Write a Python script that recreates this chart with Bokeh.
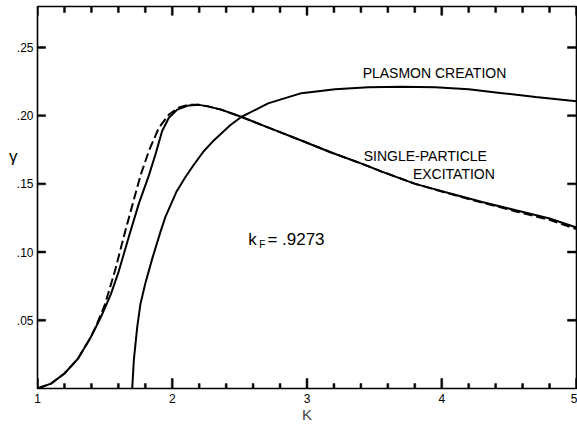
from bokeh.plotting import figure
from bokeh.models import LinearAxis, FixedTicker, Label, Range1d
from bokeh.embed import file_html
from bokeh.resources import INLINE

# ---- data ----
single_k = [1.0, 1.1, 1.2, 1.3, 1.395, 1.469, 1.544, 1.603, 1.678, 1.752, 1.826, 1.876,
            1.925, 1.975, 2.037, 2.123, 2.2, 2.264, 2.363, 2.5, 2.686, 2.934, 3.18,
            3.4, 3.555, 3.803, 4.05, 4.30, 4.55, 4.80, 5.0]
single_g = [0.0, 0.0036, 0.011, 0.0218, 0.0375, 0.052, 0.069, 0.0859, 0.1113, 0.1355, 0.156, 0.1718,
            0.1887, 0.1984, 0.2044, 0.2075, 0.2079, 0.2068, 0.2044, 0.1996, 0.1923, 0.1827, 0.173,
            0.165, 0.159, 0.150, 0.1433, 0.1367, 0.1306, 0.1246, 0.118]

dashed_k = [1.0, 1.1, 1.2, 1.3, 1.395, 1.44, 1.50, 1.574, 1.653, 1.727, 1.764, 1.826,
            1.90, 1.975, 2.049, 2.123, 2.2, 2.264, 2.363, 2.5, 2.686, 2.934, 3.18,
            3.4, 3.555, 3.803, 4.05, 4.30, 4.55, 4.80, 5.0]
dashed_g = [0.0, 0.0036, 0.011, 0.0218, 0.0375, 0.047, 0.0615, 0.0859, 0.116, 0.1427, 0.156, 0.174,
            0.191, 0.2008, 0.206, 0.208, 0.2079, 0.2068, 0.2044, 0.1996, 0.1923, 0.1827, 0.173,
            0.165, 0.159, 0.150, 0.1430, 0.1362, 0.1298, 0.1236, 0.1168]

plasmon_k = [1.703, 1.715, 1.740, 1.764, 1.80, 1.851, 1.913, 1.95, 2.03, 2.098, 2.16, 2.23,
             2.30, 2.36, 2.43, 2.512, 2.711, 2.959, 3.208, 3.456, 3.704, 3.952, 4.20, 4.449,
             4.697, 5.0]
plasmon_g = [0.0, 0.021, 0.045, 0.062, 0.077, 0.095, 0.115, 0.126, 0.144, 0.155, 0.164, 0.1735,
             0.181, 0.1865, 0.193, 0.199, 0.209, 0.2165, 0.2194, 0.2209, 0.2211, 0.2209, 0.2194, 0.2165,
             0.2136, 0.2106]

x_ticks = [1.0, 2.0, 3.0, 4.0, 5.0]
x_minor = [1.2, 1.4, 1.6, 1.8, 2.2, 2.4, 2.6, 2.8, 3.2, 3.4, 3.6, 3.8, 4.2, 4.4, 4.6, 4.8]
y_ticks = [0.05, 0.10, 0.15, 0.20, 0.25]
y_labels = [".05", ".10", ".15", ".20", ".25"]
x_title = "K"
y_title = "\u03b3"
y_title_pos = 0.17

FONT = "Liberation Sans"
X0, X1, Y0, Y1 = 1.0, 5.0, 0.0, 0.28

p = figure(width=577, height=425, output_backend="svg", toolbar_location=None,
           x_range=Range1d(X0, X1), y_range=Range1d(Y0, Y1),
           x_axis_type=None, y_axis_type=None,
           min_border_left=37, min_border_right=1, min_border_top=6, min_border_bottom=33)
p.outline_line_color = "black"
p.outline_line_width = 1.6
p.grid.visible = False
p.background_fill_color = "white"
p.border_fill_color = "white"


def label_axis(ax, size="12px", standoff=4):
    ax.axis_line_color = None
    ax.major_tick_line_color = None
    ax.minor_tick_line_color = None
    ax.major_tick_in = 0
    ax.major_tick_out = 0
    ax.minor_tick_in = 0
    ax.minor_tick_out = 0
    ax.major_label_text_font = FONT
    ax.major_label_text_font_size = size
    ax.major_label_text_color = "black"
    ax.major_label_standoff = standoff


bottom = LinearAxis(ticker=FixedTicker(ticks=x_ticks))
label_axis(bottom, standoff=5)
bottom.axis_label = x_title
bottom.axis_label_text_font = FONT
bottom.axis_label_text_font_style = "normal"
bottom.axis_label_text_font_size = "15px"
bottom.axis_label_standoff = 0
p.add_layout(bottom, "below")

left = LinearAxis(ticker=FixedTicker(ticks=y_ticks))
label_axis(left, standoff=4)
left.major_label_overrides = {t: l for t, l in zip(y_ticks, y_labels)}
p.add_layout(left, "left")

# outer left "axis" carrying only the horizontal gamma title
gam = LinearAxis(ticker=FixedTicker(ticks=[y_title_pos]))
label_axis(gam, size="17px", standoff=-4)
gam.major_label_overrides = {y_title_pos: y_title}
p.add_layout(gam, "left")

# inward tick marks as thin filled bars, built from the tick lists
HWX = 0.0070   # half bar width for vertical ticks (data units of x, ~1 px)
HWY = 0.0007   # half bar width for horizontal ticks (data units of y, ~1 px)


def vbars(ticks, base, d):
    lo, hi = (base, base + d) if d > 0 else (base + d, base)
    return dict(left=[t - HWX for t in ticks], right=[t + HWX for t in ticks],
                bottom=[lo] * len(ticks), top=[hi] * len(ticks))


def hbars(ticks, base, d):
    lo, hi = (base, base + d) if d > 0 else (base + d, base)
    return dict(left=[lo] * len(ticks), right=[hi] * len(ticks),
                bottom=[t - HWY for t in ticks], top=[t + HWY for t in ticks])


for bars in [
    vbars(x_ticks, Y0, 0.0073),     # bottom major ~10 px
    vbars(x_minor, Y0, 0.0036),     # bottom minor ~5 px
    vbars(x_ticks, Y1, -0.0065),    # top major
    vbars(x_minor, Y1, -0.0044),    # top minor
    hbars(y_ticks, X0, 0.060),      # left ~8 px
    hbars(y_ticks, X1, -0.067),     # right ~9 px
]:
    p.quad(**bars, fill_color="black", line_color="black", line_width=0.5)

# curves
p.line(single_k, single_g, line_color="black", line_width=2.0)
p.line(dashed_k, dashed_g, line_color="black", line_width=2.0, line_dash="9 4")
p.line(plasmon_k, plasmon_g, line_color="black", line_width=2.0)


def lab(x, y, text, size, align="left", baseline="middle"):
    p.add_layout(Label(x=x, y=y, text=text, text_font=FONT, text_font_size=size,
                       text_color="black", text_align=align, text_baseline=baseline))


lab(3.413, 0.2313, "PLASMON CREATION", "14px")
lab(3.421, 0.1703, "SINGLE-PARTICLE", "14px")
lab(3.786, 0.1573, "EXCITATION", "14px")
lab(2.564, 0.109, "k", "17px", baseline="alphabetic")
lab(2.646, 0.1055, "F", "10px", baseline="alphabetic")
lab(2.706, 0.109, "= .9273", "17px", baseline="alphabetic")

open("out.html", "w").write(file_html(p, INLINE))
